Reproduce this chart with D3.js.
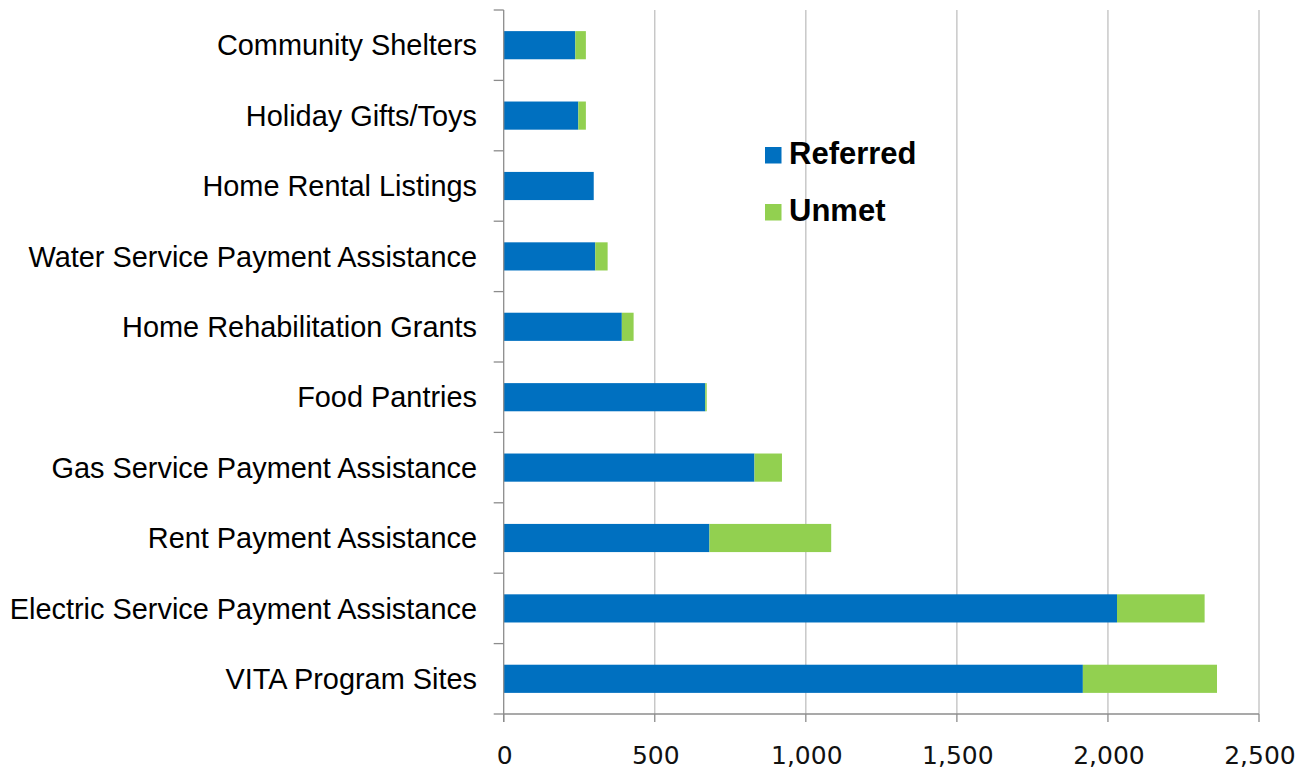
<!DOCTYPE html>
<html><head><meta charset="utf-8">
<script src="https://cdn.jsdelivr.net/npm/d3@7"></script>
<style>body{margin:0;background:#fff;}svg{display:block;}</style>
</head><body>
<svg id="chart" width="1309" height="772"></svg>
<script>
const categories = ["Community Shelters","Holiday Gifts/Toys","Home Rental Listings","Water Service Payment Assistance","Home Rehabilitation Grants","Food Pantries","Gas Service Payment Assistance","Rent Payment Assistance","Electric Service Payment Assistance","VITA Program Sites"];
const referred = [237, 247, 298, 303, 391, 667, 830, 681, 2030, 1917];
const unmet = [35, 25, 0, 41, 39, 5, 91, 403, 290, 444];
const seriesNames = ["Referred","Unmet"];
const colors = ["#0070C0","#92D050"];
const xTicks = [0, 500, 1000, 1500, 2000, 2500];

const svg = d3.select("#chart");
const m = {left: 503.7, right: 1259, top: 10, bottom: 714};
const x = d3.scaleLinear().domain([0, 2500]).range([m.left, m.right]);
const y = d3.scaleBand().domain(categories).range([m.top, m.bottom]).paddingInner(0.6).paddingOuter(0.3);
const yb = d3.scaleBand().domain(categories).range([m.top, m.bottom]);

// gridlines
svg.append("g").selectAll("line").data(xTicks.slice(1)).join("line")
  .attr("x1", d => x(d)).attr("x2", d => x(d)).attr("y1", m.top).attr("y2", m.bottom)
  .attr("stroke", "#c0c0c0").attr("stroke-width", 1.3);

// bars
const stackData = categories.map((c, i) => ({cat: c, Referred: referred[i], Unmet: unmet[i]}));
const stack = d3.stack().keys(seriesNames)(stackData);
svg.append("g").selectAll("g").data(stack).join("g")
  .attr("fill", (d, i) => colors[i])
  .selectAll("rect").data(d => d).join("rect")
  .attr("x", d => x(d[0])).attr("width", d => Math.max(0, x(d[1]) - x(d[0])))
  .attr("y", d => y(d.data.cat)).attr("height", y.bandwidth());

// y axis
const yAxisG = svg.append("g");
yAxisG.append("line").attr("x1", m.left).attr("x2", m.left).attr("y1", m.top).attr("y2", m.bottom + 8)
  .attr("stroke", "#8c8c8c").attr("stroke-width", 1.3);
const yTickPos = categories.map(c => yb(c)).concat([m.bottom]);
yAxisG.selectAll("line.t").data(yTickPos).join("line").attr("class","t")
  .attr("x1", m.left - 10).attr("x2", m.left).attr("y1", d => d).attr("y2", d => d)
  .attr("stroke", "#8c8c8c").attr("stroke-width", 1.3);
yAxisG.selectAll("text").data(categories).join("text")
  .attr("x", 477).attr("y", d => yb(d) + yb.bandwidth() / 2)
  .attr("dy", "0.35em").attr("text-anchor", "end")
  .attr("font-family", "Liberation Sans, Arial, sans-serif").attr("font-size", 28.9)
  .attr("fill", "#000").text(d => d);

// x axis
const xAxisG = svg.append("g");
xAxisG.append("line").attr("x1", m.left).attr("x2", m.right).attr("y1", m.bottom).attr("y2", m.bottom)
  .attr("stroke", "#8c8c8c").attr("stroke-width", 1.3);
xAxisG.selectAll("line.t").data(xTicks).join("line").attr("class","t")
  .attr("x1", d => x(d)).attr("x2", d => x(d)).attr("y1", m.bottom).attr("y2", m.bottom + 8)
  .attr("stroke", "#8c8c8c").attr("stroke-width", 1.3);
const fmt = d3.format(",");
xAxisG.selectAll("text").data(xTicks).join("text")
  .attr("x", d => x(d) + 1).attr("y", 764).attr("text-anchor", "middle")
  .attr("font-family", "DejaVu Sans, Verdana, sans-serif").attr("font-size", 25)
  .attr("fill", "#111").text(d => fmt(d));

// legend
const leg = svg.append("g");
const legY = [164, 221];
seriesNames.forEach((s, i) => {
  leg.append("rect").attr("x", 765).attr("y", legY[i] - 17).attr("width", 16.5).attr("height", 16.5).attr("fill", colors[i]);
  leg.append("text").attr("x", 789).attr("y", legY[i])
    .attr("font-family", "Liberation Sans, Arial, sans-serif").attr("font-weight", "bold").attr("font-size", 31)
    .attr("fill", "#000").text(s);
});
</script>
</body></html>
